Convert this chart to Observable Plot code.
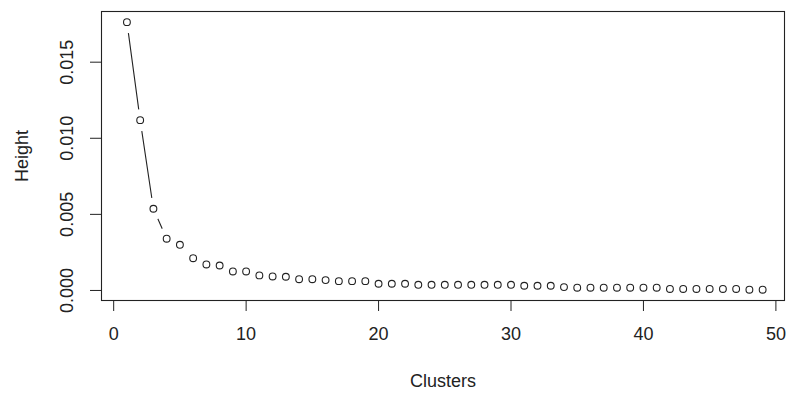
<!DOCTYPE html>
<html>
<head>
<meta charset="utf-8">
<script src="https://cdn.jsdelivr.net/npm/d3@7"></script>
<script src="https://cdn.jsdelivr.net/npm/@observablehq/plot@0.6"></script>
<style>
  html, body { margin: 0; padding: 0; background: white; }
</style>
</head>
<body>
<div id="chart"></div>
<script>
const clusters = [1,2,3,4,5,6,7,8,9,10,11,12,13,14,15,16,17,18,19,20,21,22,23,24,25,26,27,28,29,30,31,32,33,34,35,36,37,38,39,40,41,42,43,44,45,46,47,48,49];
const heights = [
  0.01763, 0.01119, 0.00537, 0.00340, 0.00300, 0.00212, 0.00171, 0.00164, 0.00125, 0.00125,
  0.00099, 0.00092, 0.00090, 0.00074, 0.00074, 0.00068, 0.00061, 0.00061, 0.00061, 0.00044,
  0.00044, 0.00044, 0.00037, 0.00037, 0.00037, 0.00037, 0.00037, 0.00037, 0.00037, 0.00037,
  0.00031, 0.00031, 0.00031, 0.00022, 0.00018, 0.00018, 0.00018, 0.00018, 0.00018, 0.00018,
  0.00018, 0.00010, 0.00010, 0.00010, 0.00010, 0.00010, 0.00010, 0.00005, 0.00005
];
const xTicks = [0, 10, 20, 30, 40, 50];
const yTicks = [0.000, 0.005, 0.010, 0.015];
const xTitle = "Clusters";
const yTitle = "Height";

const data = clusters.map((c, i) => ({cluster: c, height: heights[i]}));
const ink = "#222";

const chart = Plot.plot({
  width: 787,
  height: 395,
  marginLeft: 101,
  marginRight: 3,
  marginTop: 11,
  marginBottom: 95,
  style: {fontFamily: "'Liberation Sans', Arial, sans-serif", fontSize: "18px", color: ink, background: "white"},
  x: {domain: [-0.92, 50.65]},
  y: {domain: [-0.00066, 0.01833]},
  marks: [
    Plot.line(data, {x: "cluster", y: "height", stroke: ink, strokeWidth: 1.1}),
    Plot.dot(data, {x: "cluster", y: "height", r: 11, fill: "white", stroke: "none"}),
    Plot.dot(data, {x: "cluster", y: "height", r: 3.4, fill: "white", stroke: ink, strokeWidth: 1.1}),
    Plot.frame({stroke: ink, strokeWidth: 1.1}),
    Plot.axisX(xTicks, {tickSize: 11, tickFormat: () => "", label: null, stroke: ink}),
    Plot.axisY(yTicks, {tickSize: 11, tickFormat: () => "", label: null, stroke: ink}),
    Plot.text(xTicks, {x: d => d, frameAnchor: "bottom", dy: 34, lineAnchor: "middle", text: d => String(d), fill: ink}),
    Plot.text(yTicks, {y: d => d, frameAnchor: "left", dx: -34, rotate: -90, textAnchor: "middle", lineAnchor: "middle", text: d => d.toFixed(3), fill: ink}),
    Plot.text([xTitle], {frameAnchor: "bottom", dy: 81, lineAnchor: "middle", text: d => d, fill: ink}),
    Plot.text([yTitle], {frameAnchor: "left", dx: -79, rotate: -90, textAnchor: "middle", lineAnchor: "middle", text: d => d, fill: ink})
  ]
});
document.getElementById("chart").appendChild(chart);
</script>
</body>
</html>
